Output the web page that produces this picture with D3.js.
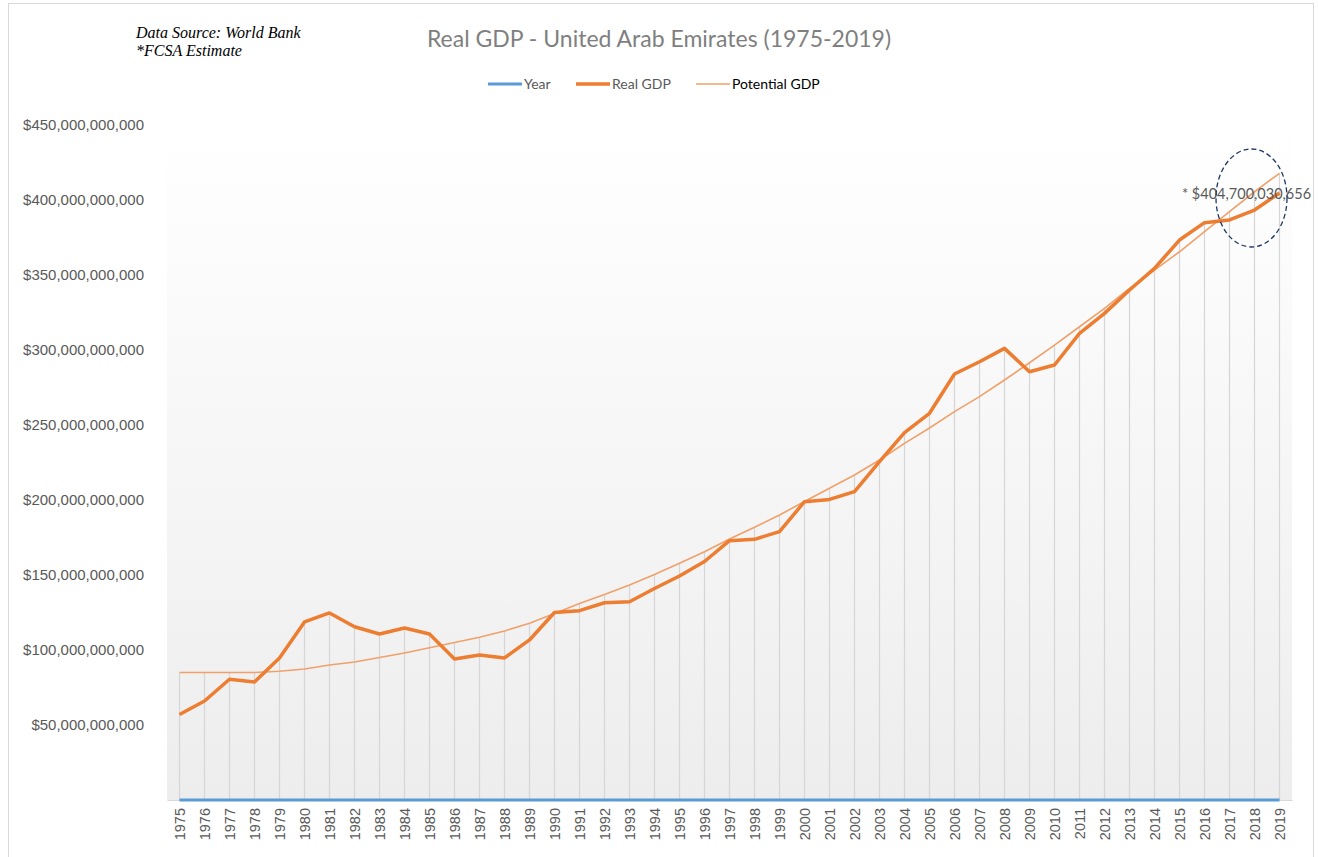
<!DOCTYPE html>
<html>
<head>
<meta charset="utf-8">
<script src="https://cdn.jsdelivr.net/npm/d3@7"></script>
<style>
  body { margin: 0; background: #fff; }
</style>
</head>
<body>
<div id="viz"></div>
<script>
const w = 1318;
const h = 857;

// data (billions of USD)
const years = d3.range(1975, 2020);
const realGdp = [57, 66, 80.5, 78.7, 94.7, 118.7, 124.7, 115.5, 110.7, 114.7,
  110.7, 94, 96.7, 94.7, 106.7, 125, 126.2, 131.5, 132.2, 141,
  149.3, 159, 172.9, 173.8, 178.9, 198.9, 200.4, 205.6, 225.6, 244.9,
  257.8, 284, 292.2, 301.1, 285.5, 290, 311.1, 324.4, 340, 354.4,
  373.3, 384.9, 386.7, 393.3, 404.7];
const potentialGdp = [85, 85, 85, 85, 85.8, 87.3, 90, 92, 95, 98,
  101.5, 105, 108.5, 112.7, 117.8, 124.3, 131, 137, 143.3, 150.4,
  157.8, 165.5, 174, 181.8, 190, 199, 207.8, 216.7, 226.7, 237.8,
  248, 258.9, 268.9, 280, 291.5, 303.3, 315.5, 327.8, 341.1, 353.3,
  365.5, 378.9, 392.2, 405.5, 417.8];
const yTicks = [50, 100, 150, 200, 250, 300, 350, 400, 450];

const svg = d3.select('#viz').append('svg')
    .attr('width', w)
    .attr('height', h)
    .style('font-family', 'Lato, "Open Sans", sans-serif')

// chart border
svg.append('rect')
    .attr('x', 8.5).attr('y', 3.5)
    .attr('width', 1305).attr('height', 870)
    .attr('fill', '#fff')
    .attr('stroke', '#d9d9d9')

const plotLeft = 167, plotRight = 1292, plotTop = 125, plotBottom = 800;

const x = d3.scalePoint()
    .domain(years)
    .range([plotLeft, plotRight])
    .padding(0.5)

const y = d3.scaleLinear()
    .domain([0, 450e9])
    .range([plotBottom, plotTop])

// plot area gradient
const grad = svg.append('defs').append('linearGradient')
    .attr('id', 'plotFill')
    .attr('x1', 0).attr('y1', 0).attr('x2', 0).attr('y2', 1)
grad.append('stop').attr('offset', '0%').attr('stop-color', '#ffffff')
grad.append('stop').attr('offset', '100%').attr('stop-color', '#ededed')

svg.append('rect')
    .attr('x', plotLeft).attr('y', plotTop)
    .attr('width', plotRight - plotLeft).attr('height', plotBottom - plotTop)
    .attr('fill', 'url(#plotFill)')

// drop lines
svg.append('g').selectAll('line')
    .data(years)
    .join('line')
    .attr('x1', d => x(d)).attr('x2', d => x(d))
    .attr('y1', plotBottom)
    .attr('y2', (d, i) => y(Math.max(realGdp[i], potentialGdp[i]) * 1e9))
    .attr('stroke', '#d6d6d6')
    .attr('stroke-width', 1.2)

// y axis labels
const yAxis = svg.append('g')
    .attr('transform', `translate(${plotLeft},0)`)
    .call(d3.axisLeft(y)
        .tickValues(yTicks.map(v => v * 1e9))
        .tickSize(0)
        .tickPadding(23)
        .tickFormat(d => '$' + d3.format(',')(d)))
yAxis.select('.domain').remove()
yAxis.selectAll('text')
    .attr('fill', '#595959')
    .attr('font-size', 15)

// x axis
const xAxis = svg.append('g')
    .attr('transform', `translate(0,${plotBottom})`)
    .call(d3.axisBottom(x).tickSize(0).tickPadding(0))
xAxis.select('.domain').attr('stroke', '#d9d9d9')
xAxis.selectAll('text')
    .attr('fill', '#595959')
    .attr('font-size', 14.5)
    .attr('transform', 'rotate(-90)')
    .attr('text-anchor', 'end')
    .attr('x', -8)
    .attr('y', 0)
    .attr('dy', '0.35em')

// Year series (sits on the axis)
const line = d3.line().x((d, i) => x(years[i]))

svg.append('path')
    .datum(years)
    .attr('fill', 'none')
    .attr('stroke', '#5b9bd5')
    .attr('stroke-width', 3)
    .attr('d', line.y(d => y(d)))

svg.append('path')
    .datum(potentialGdp)
    .attr('fill', 'none')
    .attr('stroke', '#f0a06a')
    .attr('stroke-width', 1.6)
    .attr('d', line.y(d => y(d * 1e9)))

svg.append('path')
    .datum(realGdp)
    .attr('fill', 'none')
    .attr('stroke', '#ed7d31')
    .attr('stroke-width', 3.5)
    .attr('stroke-linejoin', 'round')
    .attr('d', line.y(d => y(d * 1e9)))

// annotation
svg.append('text')
    .attr('x', 1182).attr('y', 199)
    .attr('fill', '#595959')
    .attr('font-size', 14.5)
    .text('* $404,700,030,656')

svg.append('ellipse')
    .attr('cx', 1251.5).attr('cy', 198)
    .attr('rx', 35.5).attr('ry', 49)
    .attr('fill', 'none')
    .attr('stroke', '#1f3864')
    .attr('stroke-width', 1.3)
    .attr('stroke-dasharray', '5,3')

// title
svg.append('text')
    .attr('x', 659).attr('y', 47)
    .attr('text-anchor', 'middle')
    .attr('fill', '#7f7f7f')
    .attr('font-size', 23)
    .text('Real GDP - United Arab Emirates (1975-2019)')

// source notes
const note = svg.append('g')
    .attr('font-family', '"Liberation Serif", "Times New Roman", serif')
    .attr('font-style', 'italic')
    .attr('font-size', 16)
    .attr('fill', '#000')
note.append('text').attr('x', 136).attr('y', 38).text('Data Source: World Bank')
note.append('text').attr('x', 136).attr('y', 56).text('*FCSA Estimate')

// legend
const legendItems = [
    { name: 'Year', color: '#5b9bd5', width: 3, x: 488, text: '#595959' },
    { name: 'Real GDP', color: '#ed7d31', width: 3.5, x: 576, text: '#595959' },
    { name: 'Potential GDP', color: '#f0a06a', width: 1.6, x: 696, text: '#000' }
]
const legend = svg.append('g').selectAll('g')
    .data(legendItems)
    .join('g')
    .attr('transform', d => `translate(${d.x},84)`)
legend.append('line')
    .attr('x1', 0).attr('x2', 34)
    .attr('stroke', d => d.color)
    .attr('stroke-width', d => d.width)
legend.append('text')
    .attr('x', 36).attr('dy', '0.35em')
    .attr('font-size', 14)
    .attr('fill', d => d.text)
    .text(d => d.name)
</script>
</body>
</html>
